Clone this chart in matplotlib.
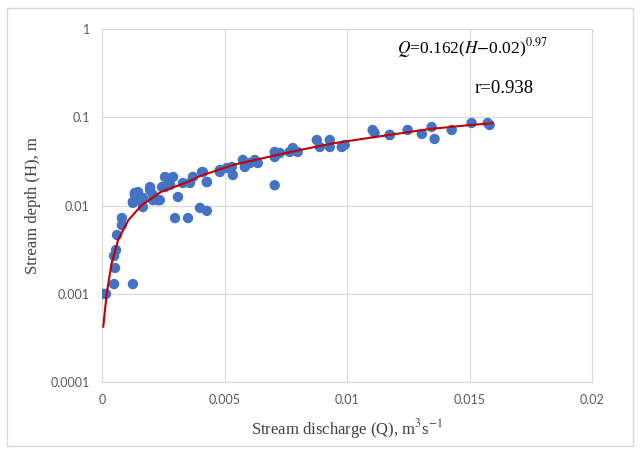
import matplotlib
matplotlib.use("Agg")
import matplotlib.pyplot as plt
from matplotlib.patches import Rectangle

# observed points: discharge Q (m3/s) and depth H (m)
q_obs = [0.00003, 0.00015, 0.00048, 0.00125, 0.00052, 0.00048, 0.00056, 0.0006,
         0.0008, 0.0008, 0.00125, 0.00133, 0.00146, 0.00166, 0.00195, 0.00207,
         0.00227, 0.00244, 0.00133, 0.00146, 0.00125, 0.00166, 0.00195, 0.00207,
         0.00235, 0.00256, 0.00289, 0.00256, 0.00277, 0.00309, 0.00297, 0.0035,
         0.00399, 0.00427, 0.00329, 0.00358, 0.0037, 0.00411, 0.00427, 0.0048,
         0.00509, 0.00407, 0.00427, 0.0048, 0.00529, 0.00533, 0.00574, 0.00582,
         0.00603, 0.00623, 0.00635, 0.00704, 0.00704, 0.00725, 0.00765, 0.00778,
         0.00798, 0.00704, 0.00778, 0.00876, 0.00888, 0.00929, 0.00929, 0.00978,
         0.0099, 0.01104, 0.01112, 0.01174, 0.01174, 0.01247, 0.01305, 0.01345,
         0.01357, 0.01427, 0.01508, 0.01574, 0.01582]
h_obs = [0.00099, 0.00099, 0.00128, 0.00128, 0.00195, 0.00267, 0.00312, 0.00462,
         0.006, 0.0072, 0.011, 0.0132, 0.0142, 0.0096, 0.0162, 0.0132,
         0.0115, 0.0162, 0.0139, 0.0115, 0.0107, 0.0122, 0.015, 0.0115,
         0.0115, 0.0211, 0.0211, 0.0162, 0.0171, 0.0125, 0.0072, 0.0072,
         0.0094, 0.0087, 0.018, 0.018, 0.0211, 0.024, 0.0185, 0.0253,
         0.0267, 0.024, 0.0185, 0.024, 0.0274, 0.0222, 0.0329, 0.0274,
         0.0304, 0.0329, 0.0304, 0.0406, 0.0356, 0.0395, 0.0406, 0.045,
         0.0406, 0.017, 0.0428, 0.0555, 0.0462, 0.0555, 0.0462, 0.0462,
         0.0487, 0.0721, 0.0667, 0.0633, 0.0633, 0.0722, 0.065, 0.078,
         0.057, 0.0721, 0.0866, 0.0866, 0.0822]

# rating curve as drawn on the chart
q_fit = [0.00004, 0.00018, 0.00038, 0.00065, 0.00106, 0.00161, 0.00242, 0.00351,
         0.00399, 0.00534, 0.00672, 0.00808, 0.00943, 0.01079, 0.01215, 0.01337,
         0.015, 0.01594]
h_fit = [0.00042, 0.001, 0.0022, 0.0041, 0.0068, 0.0101, 0.0144, 0.0186,
         0.0216, 0.0289, 0.0353, 0.0428, 0.0509, 0.058, 0.066, 0.074,
         0.082, 0.086]

x_ticks = [0, 0.005, 0.01, 0.015, 0.02]
x_labels = ["0", "0.005", "0.01", "0.015", "0.02"]
y_ticks = [0.0001, 0.001, 0.01, 0.1, 1]
y_labels = ["0.0001", "0.001", "0.01", "0.1", "1"]

plt.rcParams["mathtext.fontset"] = "stix"

fig = plt.figure(figsize=(6.41, 4.55), dpi=100)
ax = fig.add_axes([0.1596, 0.1615, 0.7640, 0.7737])

# chart border
fig.patches.append(Rectangle((0.011, 0.02), 0.977, 0.962, transform=fig.transFigure,
                             fill=False, edgecolor="#d9d9d9", linewidth=1))

ax.scatter(q_obs, h_obs, s=56, color="#4472c4", edgecolors="none", zorder=3)
ax.plot(q_fit, h_fit, color="#c00000", linewidth=1.5, zorder=4)

ax.set_yscale("log")
ax.set_xlim(0, 0.02)
ax.set_ylim(0.0001, 1)
ax.set_xticks(x_ticks)
ax.set_xticklabels(x_labels)
ax.set_yticks(y_ticks)
ax.set_yticklabels(y_labels)
ax.minorticks_off()
ax.tick_params(length=0, labelsize=9, labelcolor="#595959", pad=9)
for lab in ax.get_xticklabels() + ax.get_yticklabels():
    lab.set_family("Lato")
ax.grid(True, color="#d9d9d9", linewidth=0.8)
ax.set_axisbelow(True)
for sp in ax.spines.values():
    sp.set_color("#d9d9d9")
    sp.set_linewidth(0.8)

ax.set_xlabel(r"Stream discharge (Q), m$^3$s$^{-1}$", family="Liberation Serif",
              fontsize=12, color="#404040", labelpad=8)
ax.set_ylabel("Stream depth (H), m", family="Liberation Serif",
              fontsize=12, color="#404040", labelpad=7)

ax.text(0.0151, 0.62, r"$Q$=0.162($H$$-$0.02)$^{0.97}$", family="Liberation Serif",
        fontsize=12.5, ha="center", va="center", color="black")
ax.text(0.01643, 0.215, "r=0.938", family="Liberation Serif",
        fontsize=13.5, ha="center", va="center", color="black")

fig.savefig("out.png", dpi=100)
